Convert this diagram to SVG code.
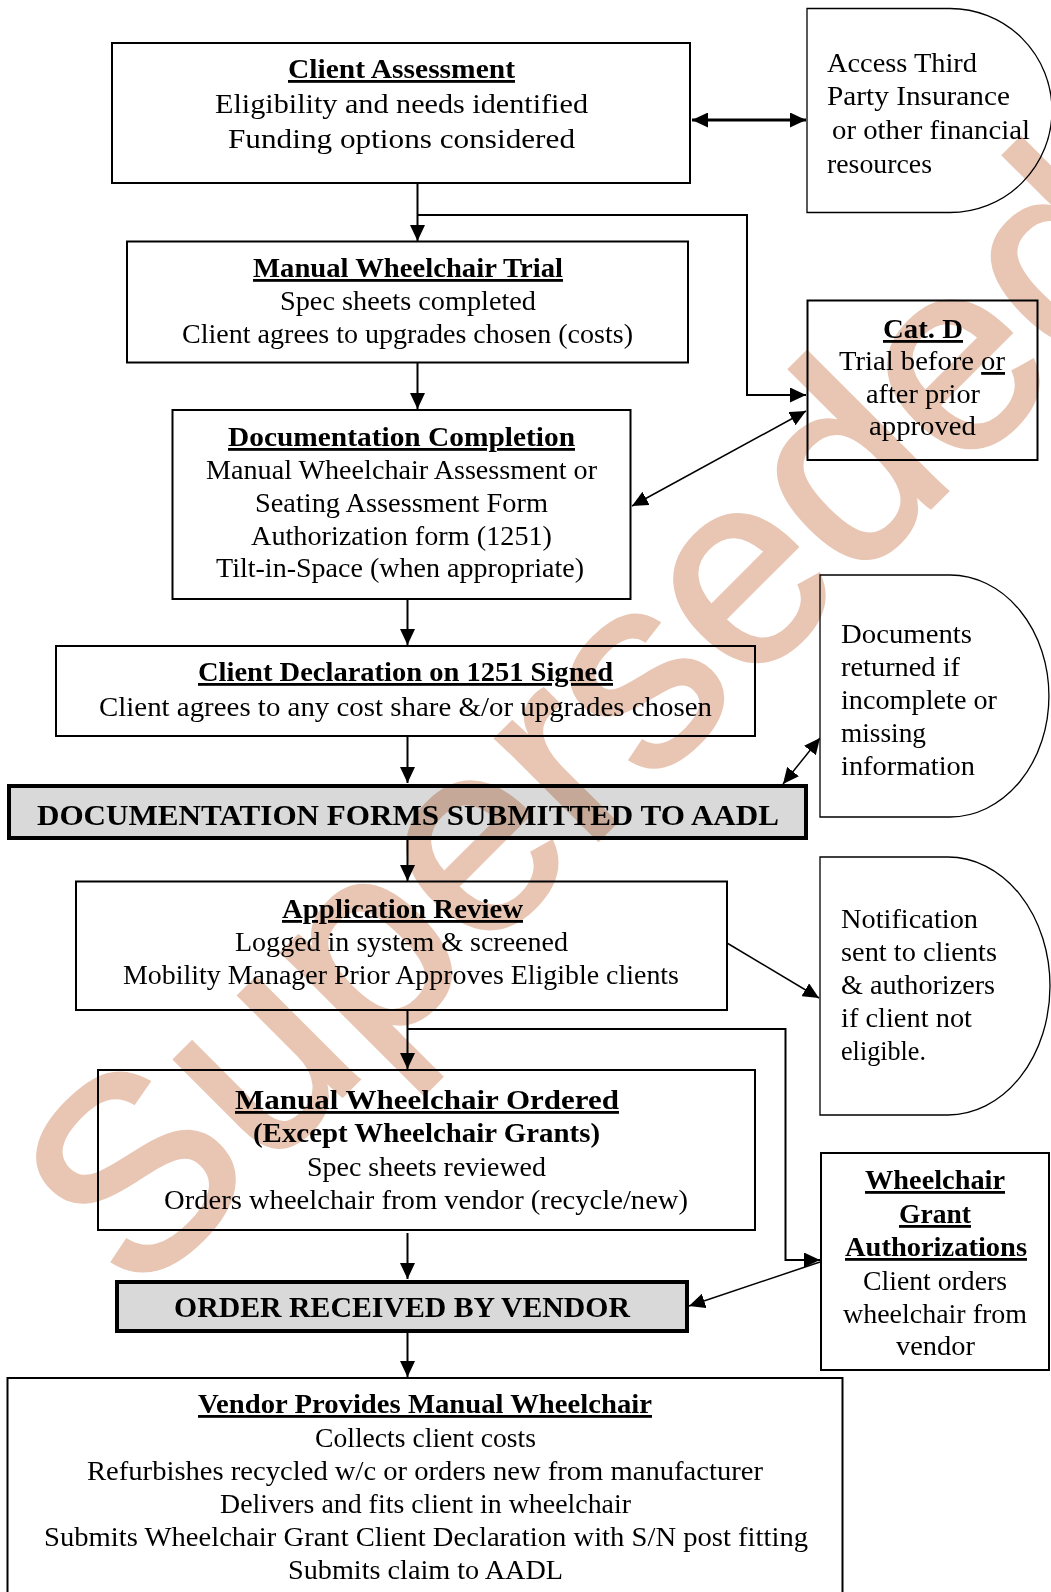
<svg xmlns="http://www.w3.org/2000/svg" width="1051" height="1592" viewBox="0 0 1051 1592">
<style>
.box{fill:#fff;stroke:#000;stroke-width:2}
.dshape{fill:#fff;stroke:#000;stroke-width:1.3}
.gray{fill:#d9d9d9;stroke:#000;stroke-width:4}
.t{font-family:"Liberation Serif","Times New Roman",serif;font-size:28px;fill:#000}
.b{font-weight:bold}
.u{text-decoration:underline}
.cap{font-size:30px}
.c{fill:none;stroke:#000;stroke-width:2}
.thin{stroke-width:1.5}
.thick{stroke-width:3}
.wm{font-family:"Liberation Sans",Arial,sans-serif;font-size:272px;fill:#e8c6b3;stroke:#e8c6b3;stroke-width:4;mix-blend-mode:multiply}
</style>
<defs>
<marker id="ah" viewBox="0 0 16 15" refX="16" refY="7.5" markerWidth="16" markerHeight="15" markerUnits="userSpaceOnUse" orient="auto-start-reverse">
<path d="M0,0 L16,7.5 L0,15 z" fill="#000"/>
</marker>
</defs>
<rect width="1051" height="1592" fill="#fff"/>

<g id="connectors">
<line class="c thick" x1="692" y1="120" x2="806" y2="120" marker-start="url(#ah)" marker-end="url(#ah)"/>
<line class="c" x1="417.5" y1="184" x2="417.5" y2="241" marker-end="url(#ah)"/>
<polyline class="c" points="417.5,215 747,215 747,395 806,395" marker-end="url(#ah)"/>
<line class="c" x1="417.5" y1="363" x2="417.5" y2="409" marker-end="url(#ah)"/>
<line class="c thin" x1="632" y1="506" x2="806" y2="411" marker-start="url(#ah)" marker-end="url(#ah)"/>
<line class="c" x1="407.5" y1="600" x2="407.5" y2="645" marker-end="url(#ah)"/>
<line class="c" x1="407.5" y1="737" x2="407.5" y2="783" marker-end="url(#ah)"/>
<line class="c thin" x1="820" y1="738" x2="783" y2="784" marker-start="url(#ah)" marker-end="url(#ah)"/>
<line class="c" x1="407.5" y1="840" x2="407.5" y2="881" marker-end="url(#ah)"/>
<line class="c thin" x1="727" y1="943" x2="819" y2="998" marker-end="url(#ah)"/>
<line class="c" x1="407.5" y1="1011" x2="407.5" y2="1069" marker-end="url(#ah)"/>
<polyline class="c" points="407.5,1029 785.5,1029 785.5,1260 820,1260" marker-end="url(#ah)"/>
<line class="c" x1="407.5" y1="1233" x2="407.5" y2="1279" marker-end="url(#ah)"/>
<line class="c thin" x1="820" y1="1262" x2="689" y2="1306" marker-end="url(#ah)"/>
<line class="c" x1="407.5" y1="1333" x2="407.5" y2="1377" marker-end="url(#ah)"/>
</g>

<g id="client-assessment">
<rect class="box" x="112" y="43" width="578" height="140"/>
<text class="t b u" x="288" y="78" textLength="227" lengthAdjust="spacingAndGlyphs">Client Assessment</text>
<text class="t" x="215" y="113" textLength="373" lengthAdjust="spacingAndGlyphs">Eligibility and needs identified</text>
<text class="t" x="228" y="148" textLength="347" lengthAdjust="spacingAndGlyphs">Funding options considered</text>
</g>

<g id="third-party">
<path class="dshape" d="M807,8.5 H950 A102,102 0 0 1 950,212.5 H807 Z"/>
<text class="t" x="827" y="72" textLength="150" lengthAdjust="spacingAndGlyphs">Access Third</text>
<text class="t" x="827" y="105" textLength="183" lengthAdjust="spacingAndGlyphs">Party Insurance</text>
<text class="t" x="832" y="139" textLength="198" lengthAdjust="spacingAndGlyphs">or other financial</text>
<text class="t" x="827" y="173" textLength="105" lengthAdjust="spacingAndGlyphs">resources</text>
</g>

<g id="wheelchair-trial">
<rect class="box" x="127" y="241.5" width="561" height="121"/>
<text class="t b u" x="253" y="277" textLength="310" lengthAdjust="spacingAndGlyphs">Manual Wheelchair Trial</text>
<text class="t" x="280" y="310" textLength="256" lengthAdjust="spacingAndGlyphs">Spec sheets completed</text>
<text class="t" x="182" y="343" textLength="451" lengthAdjust="spacingAndGlyphs">Client agrees to upgrades chosen (costs)</text>
</g>

<g id="cat-d">
<rect class="box" x="807.5" y="300.5" width="230" height="159.5"/>
<text class="t b u" x="883" y="338" textLength="80" lengthAdjust="spacingAndGlyphs">Cat. D</text>
<text class="t" x="839" y="370" textLength="166" lengthAdjust="spacingAndGlyphs">Trial before <tspan class="u">or</tspan></text>
<text class="t" x="866" y="403" textLength="114" lengthAdjust="spacingAndGlyphs">after prior</text>
<text class="t" x="869" y="435" textLength="107" lengthAdjust="spacingAndGlyphs">approved</text>
</g>

<g id="documentation-completion">
<rect class="box" x="172.5" y="410" width="458" height="189"/>
<text class="t b u" x="228" y="446" textLength="347" lengthAdjust="spacingAndGlyphs">Documentation Completion</text>
<text class="t" x="206" y="479" textLength="391" lengthAdjust="spacingAndGlyphs">Manual Wheelchair Assessment or</text>
<text class="t" x="255" y="512" textLength="293" lengthAdjust="spacingAndGlyphs">Seating Assessment Form</text>
<text class="t" x="251" y="545" textLength="301" lengthAdjust="spacingAndGlyphs">Authorization form (1251)</text>
<text class="t" x="216" y="577" textLength="368" lengthAdjust="spacingAndGlyphs">Tilt-in-Space (when appropriate)</text>
</g>

<g id="client-declaration">
<rect class="box" x="56" y="646" width="699" height="90"/>
<text class="t b u" x="198" y="681" textLength="415" lengthAdjust="spacingAndGlyphs">Client Declaration on 1251 Signed</text>
<text class="t" x="99" y="716" textLength="613" lengthAdjust="spacingAndGlyphs">Client agrees to any cost share &amp;/or upgrades chosen</text>
</g>

<g id="documents-returned">
<path class="dshape" d="M820,575 H950 A99,121 0 0 1 950,817 H820 Z"/>
<text class="t" x="841" y="643" textLength="131" lengthAdjust="spacingAndGlyphs">Documents</text>
<text class="t" x="841" y="676" textLength="119" lengthAdjust="spacingAndGlyphs">returned if</text>
<text class="t" x="841" y="709" textLength="156" lengthAdjust="spacingAndGlyphs">incomplete or</text>
<text class="t" x="841" y="742" textLength="85" lengthAdjust="spacingAndGlyphs">missing</text>
<text class="t" x="841" y="775" textLength="134" lengthAdjust="spacingAndGlyphs">information</text>
</g>

<g id="forms-submitted">
<rect class="gray" x="9" y="786" width="797" height="52"/>
<text class="t b cap" x="37" y="825" textLength="742" lengthAdjust="spacingAndGlyphs">DOCUMENTATION FORMS SUBMITTED TO AADL</text>
</g>

<g id="application-review">
<rect class="box" x="76" y="881.5" width="651" height="128.5"/>
<text class="t b u" x="282" y="918" textLength="241" lengthAdjust="spacingAndGlyphs">Application Review</text>
<text class="t" x="235" y="951" textLength="333" lengthAdjust="spacingAndGlyphs">Logged in system &amp; screened</text>
<text class="t" x="123" y="984" textLength="556" lengthAdjust="spacingAndGlyphs">Mobility Manager Prior Approves Eligible clients</text>
</g>

<g id="notification">
<path class="dshape" d="M820,857 H948 A102,129 0 0 1 948,1115 H820 Z"/>
<text class="t" x="841" y="928" textLength="137" lengthAdjust="spacingAndGlyphs">Notification</text>
<text class="t" x="841" y="961" textLength="156" lengthAdjust="spacingAndGlyphs">sent to clients</text>
<text class="t" x="841" y="994" textLength="154" lengthAdjust="spacingAndGlyphs">&amp; authorizers</text>
<text class="t" x="841" y="1027" textLength="131" lengthAdjust="spacingAndGlyphs">if client not</text>
<text class="t" x="841" y="1060" textLength="85" lengthAdjust="spacingAndGlyphs">eligible.</text>
</g>

<g id="wheelchair-ordered">
<rect class="box" x="98" y="1070" width="657" height="160"/>
<text class="t b u" x="235" y="1109" textLength="384" lengthAdjust="spacingAndGlyphs">Manual Wheelchair Ordered</text>
<text class="t b" x="253" y="1142" textLength="347" lengthAdjust="spacingAndGlyphs">(Except Wheelchair Grants)</text>
<text class="t" x="307" y="1176" textLength="239" lengthAdjust="spacingAndGlyphs">Spec sheets reviewed</text>
<text class="t" x="164" y="1209" textLength="524" lengthAdjust="spacingAndGlyphs">Orders wheelchair from vendor (recycle/new)</text>
</g>

<g id="grant-authorizations">
<rect class="box" x="821" y="1153" width="228" height="217"/>
<text class="t b u" x="865" y="1189" textLength="140" lengthAdjust="spacingAndGlyphs">Wheelchair</text>
<text class="t b u" x="899" y="1223" textLength="72" lengthAdjust="spacingAndGlyphs">Grant</text>
<text class="t b u" x="845" y="1256" textLength="182" lengthAdjust="spacingAndGlyphs">Authorizations</text>
<text class="t" x="863" y="1290" textLength="144" lengthAdjust="spacingAndGlyphs">Client orders</text>
<text class="t" x="843" y="1323" textLength="184" lengthAdjust="spacingAndGlyphs">wheelchair from</text>
<text class="t" x="896" y="1355" textLength="79" lengthAdjust="spacingAndGlyphs">vendor</text>
</g>

<g id="order-received">
<rect class="gray" x="117" y="1282" width="570" height="49"/>
<text class="t b cap" x="174" y="1317" textLength="456" lengthAdjust="spacingAndGlyphs">ORDER RECEIVED BY VENDOR</text>
</g>

<g id="vendor-provides">
<rect class="box" x="7.5" y="1378" width="835" height="240"/>
<text class="t b u" x="198" y="1413" textLength="454" lengthAdjust="spacingAndGlyphs">Vendor Provides Manual Wheelchair</text>
<text class="t" x="315" y="1447" textLength="221" lengthAdjust="spacingAndGlyphs">Collects client costs</text>
<text class="t" x="87" y="1480" textLength="676" lengthAdjust="spacingAndGlyphs">Refurbishes recycled w/c or orders new from manufacturer</text>
<text class="t" x="220" y="1513" textLength="411" lengthAdjust="spacingAndGlyphs">Delivers and fits client in wheelchair</text>
<text class="t" x="44" y="1546" textLength="764" lengthAdjust="spacingAndGlyphs">Submits Wheelchair Grant Client Declaration with S/N post fitting</text>
<text class="t" x="288" y="1579" textLength="275" lengthAdjust="spacingAndGlyphs">Submits claim to AADL</text>
</g>

<g id="watermark">
<text class="wm" transform="translate(136,1302) rotate(-45)">Superseded</text>
</g>
</svg>
